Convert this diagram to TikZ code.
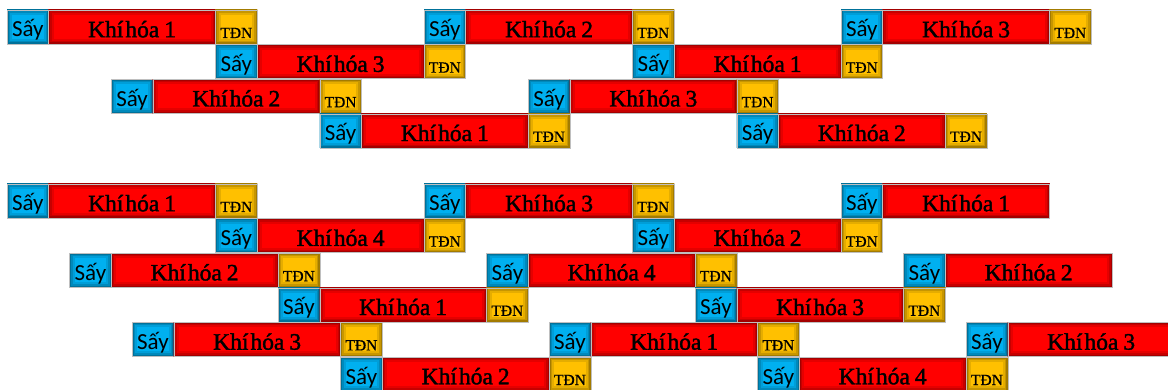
\documentclass[tikz,border=0pt]{standalone}
\usepackage{fontspec}
\setmainfont{Liberation Serif}
\newfontfamily\sayfont{Carlito}
\newfontfamily\khfont[FakeBold=1.6]{Liberation Serif}
\newfontfamily\tdnfont[FakeBold=0.8]{Liberation Serif}
\definecolor{sayblue}{HTML}{00B0F0}
\definecolor{khred}{HTML}{FF0000}
\definecolor{tdngold}{HTML}{FFC000}
\tikzset{
  cell/.style={rectangle, inner sep=0pt, outer sep=0pt, minimum height=34pt,
    anchor=north west, fill=#1, draw=black!25, line width=0.5pt,
    path picture={
      \draw[#1!90!black, line width=10pt] (path picture bounding box.south west) rectangle (path picture bounding box.north east);
      \draw[#1!78!black, line width=6pt] (path picture bounding box.south west) rectangle (path picture bounding box.north east);
      \draw[#1!64!black, line width=3pt] (path picture bounding box.south west) rectangle (path picture bounding box.north east);
    }},
  saycell/.style={cell=sayblue, minimum width=41.7pt, font=\sayfont\fontsize{23}{23}\selectfont, text=black, text height=22pt, text depth=2pt},
  khcell/.style={cell=khred, minimum width=166.8pt, font=\khfont\fontsize{23.5}{23.5}\selectfont, text=black, text height=22.5pt, text depth=2pt},
  tdncell/.style={cell=tdngold, minimum width=41.7pt, font=\tdnfont\fontsize{15.5}{15.5}\selectfont, text=black, text height=24pt, text depth=2pt},
}
% name, x in units, y top, number
\newcommand\khtext[1]{{\spaceskip=2pt Khí hóa}\hspace{5pt}#1}
\newcommand\blkfull[4]{%
  \node[saycell] (#1s) at ({7+#2*41.7},#3) {Sấy};
  \node[khcell] (#1k) at (#1s.north east) {\khtext{#4}};
  \node[tdncell] (#1t) at (#1k.north east) {TĐN};
}
\newcommand\blkshort[4]{%
  \node[saycell] (#1s) at ({7+#2*41.7},#3) {Sấy};
  \node[khcell] (#1k) at (#1s.north east) {\khtext{#4}};
}
\begin{document}
\begin{tikzpicture}[x=1pt,y=-1pt]
\useasboundingbox (0,0) rectangle (1168,390);
\clip (0,0) rectangle (1168,390);
% top group
\blkfull{aa}{0}{10}{1}
\blkfull{ab}{10}{10}{2}
\blkfull{ac}{20}{10}{3}
\blkfull{ba}{5}{44.6}{3}
\blkfull{bb}{15}{44.6}{1}
\blkfull{ca}{2.5}{79.2}{2}
\blkfull{cb}{12.5}{79.2}{3}
\blkfull{da}{7.5}{113.8}{1}
\blkfull{db}{17.5}{113.8}{2}
% bottom group
\blkfull{ea}{0}{184}{1}
\blkfull{eb}{10}{184}{3}
\blkshort{ec}{20}{184}{1}
\blkfull{fa}{5}{218.6}{4}
\blkfull{fb}{15}{218.6}{2}
\blkfull{ga}{1.5}{253.2}{2}
\blkfull{gb}{11.5}{253.2}{4}
\blkshort{gc}{21.5}{253.2}{2}
\blkfull{ha}{6.5}{287.8}{1}
\blkfull{hb}{16.5}{287.8}{3}
\blkfull{ia}{3}{322.4}{3}
\blkfull{ib}{13}{322.4}{1}
\blkshort{ic}{23}{322.4}{3}
\blkfull{ja}{8}{357}{2}
\blkfull{jb}{18}{357}{4}
\end{tikzpicture}
\end{document}
